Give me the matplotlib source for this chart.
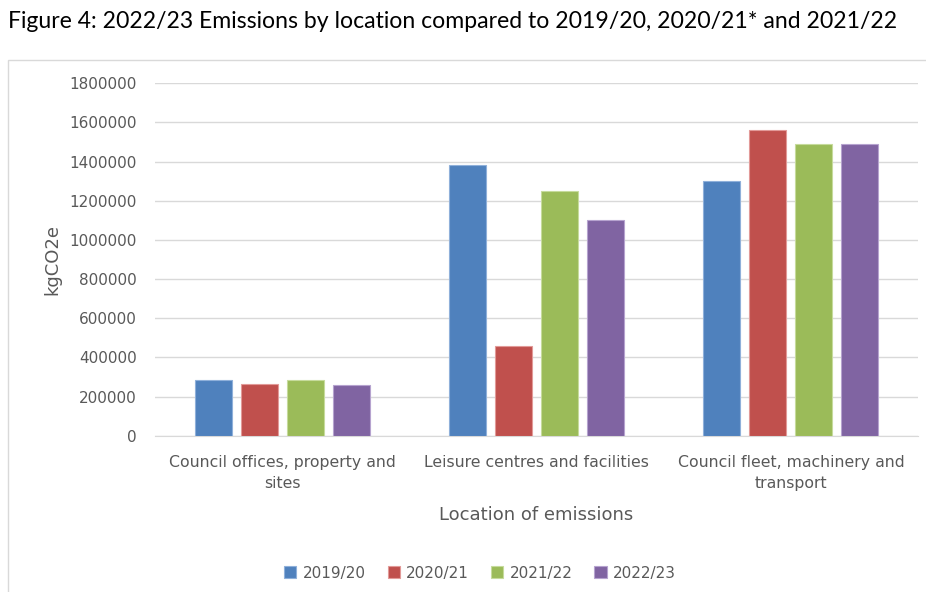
import numpy as np
import matplotlib
matplotlib.use("Agg")
import matplotlib.pyplot as plt
from matplotlib.patches import Rectangle

# Data
locations = ["Council offices, property and\nsites",
             "Leisure centres and facilities",
             "Council fleet, machinery and\ntransport"]
years = ["2019/20", "2020/21", "2021/22", "2022/23"]
em_2019 = [285000, 1381000, 1299000]
em_2020 = [262000, 456000, 1561000]
em_2021 = [284000, 1248000, 1488000]
em_2022 = [257000, 1102000, 1488000]
series = [em_2019, em_2020, em_2021, em_2022]
colors = ["#4F81BD", "#C0504D", "#9BBB59", "#8064A2"]
edges = ["#8FB0DA", "#E29A98", "#C6DB9C", "#B6A3CF"]

grey = "#595959"

fig = plt.figure(figsize=(9.26, 5.92), dpi=100)

# chart frame
fig.patches.append(Rectangle((8 / 926, -0.01), 1.0, 1 - 60 / 592 + 0.01,
                             transform=fig.transFigure, fill=False,
                             edgecolor="#D9D9D9", linewidth=1))

fig.text(8 / 926, 1 - 22 / 592, "Figure 4: 2022/23 Emissions by location compared to 2019/20, 2020/21* and 2021/22",
         fontsize=16.6, family="Lato", color="black", va="center", ha="left")

ax = fig.add_axes([155 / 926, 1 - 435.7 / 592, (918 - 155) / 926, (435.7 - 83.3) / 592])

x = np.arange(len(locations))
width = 0.1455
step = 0.181
for i, (vals, c, ec) in enumerate(zip(series, colors, edges)):
    offs = (i - 1.5) * step
    ax.bar(x + offs, vals, width, color=c, edgecolor=ec, linewidth=0.8,
           label=years[i], zorder=3)

ax.set_xlim(-0.5, 2.5)
ax.set_ylim(0, 1800000)
ax.set_yticks(np.arange(0, 1800001, 200000))
ax.set_yticklabels([str(v) for v in range(0, 1800001, 200000)])
ax.grid(axis="y", color="#D9D9D9", linewidth=1, zorder=0)
for s in ["top", "right", "left"]:
    ax.spines[s].set_visible(False)
ax.spines["bottom"].set_color("#D9D9D9")
ax.tick_params(axis="both", length=0, colors=grey, labelsize=11)
ax.tick_params(axis="y", pad=13)
ax.tick_params(axis="x", pad=14, labelsize=11.3)
ax.set_xticks(x)
ax.set_xticklabels(locations, linespacing=1.5)

ax.set_xlabel("Location of emissions", fontsize=13, color=grey, labelpad=11)
ax.set_ylabel("kgCO2e", fontsize=13, color=grey, labelpad=6)

ax.legend(loc="center", bbox_to_anchor=(((480 / 926) - 155 / 926) / ((918 - 155) / 926), -0.39),
          ncol=4, frameon=False,
          fontsize=11, labelcolor=grey, handlelength=0.8, handleheight=0.8,
          handletextpad=0.4, columnspacing=1.45)

fig.savefig("out.png", dpi=100)
